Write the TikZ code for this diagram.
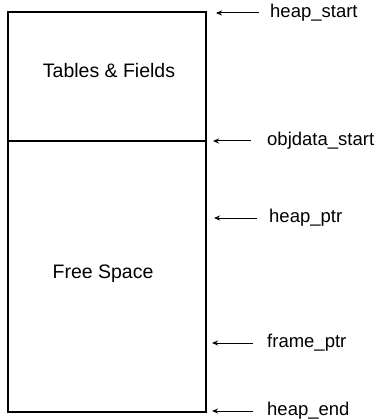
\documentclass[tikz,border=0pt]{standalone}
\usepackage{fontspec}
\setmainfont{Liberation Sans}
\usetikzlibrary{arrows.meta}
\begin{document}
\begin{tikzpicture}[x=1pt,y=-1pt,
  region/.style={draw,line width=1.2pt,minimum width=198pt,inner sep=0pt},
  regiontext/.style={inner sep=0pt,font=\fontsize{19.5}{22}\selectfont},
  ptrlabel/.style={anchor=west,inner sep=0pt,font=\fontsize{18.5}{22}\selectfont},
  ptrarrow/.style={line width=1pt,-{Stealth[length=6pt,width=5pt]}}]
\useasboundingbox (0,0) rectangle (376,419);
\node[region,minimum height=129pt] (tables) at (107,76.5) {};
\node[region,minimum height=271pt] (free) at (107,276.5) {};
\node[regiontext] (tablestext) at (109,71) {Tables \& Fields};
\node[regiontext] (freetext) at (103,274) {Free Space};
\node[ptrlabel] (hs) at (270,13) {heap\_start};
\node[ptrlabel] (os) at (267,141) {objdata\_start};
\node[ptrlabel] (hp) at (269,218) {heap\_ptr};
\node[ptrlabel] (fp) at (267,343) {frame\_ptr};
\node[ptrlabel] (he) at (267,411) {heap\_end};
\coordinate (hsT) at (216,13);
\coordinate (osT) at (213,141);
\coordinate (hpT) at (214,218);
\coordinate (fpT) at (212,343);
\coordinate (heT) at (212,411);
\draw[ptrarrow] ([xshift=-11pt]hs.west) -- (hsT);
\draw[ptrarrow] ([xshift=-16pt]os.west) -- (osT);
\draw[ptrarrow] ([xshift=-12pt]hp.west) -- (hpT);
\draw[ptrarrow] ([xshift=-14pt]fp.west) -- (fpT);
\draw[ptrarrow] ([xshift=-14pt]he.west) -- (heT);
\end{tikzpicture}
\end{document}
